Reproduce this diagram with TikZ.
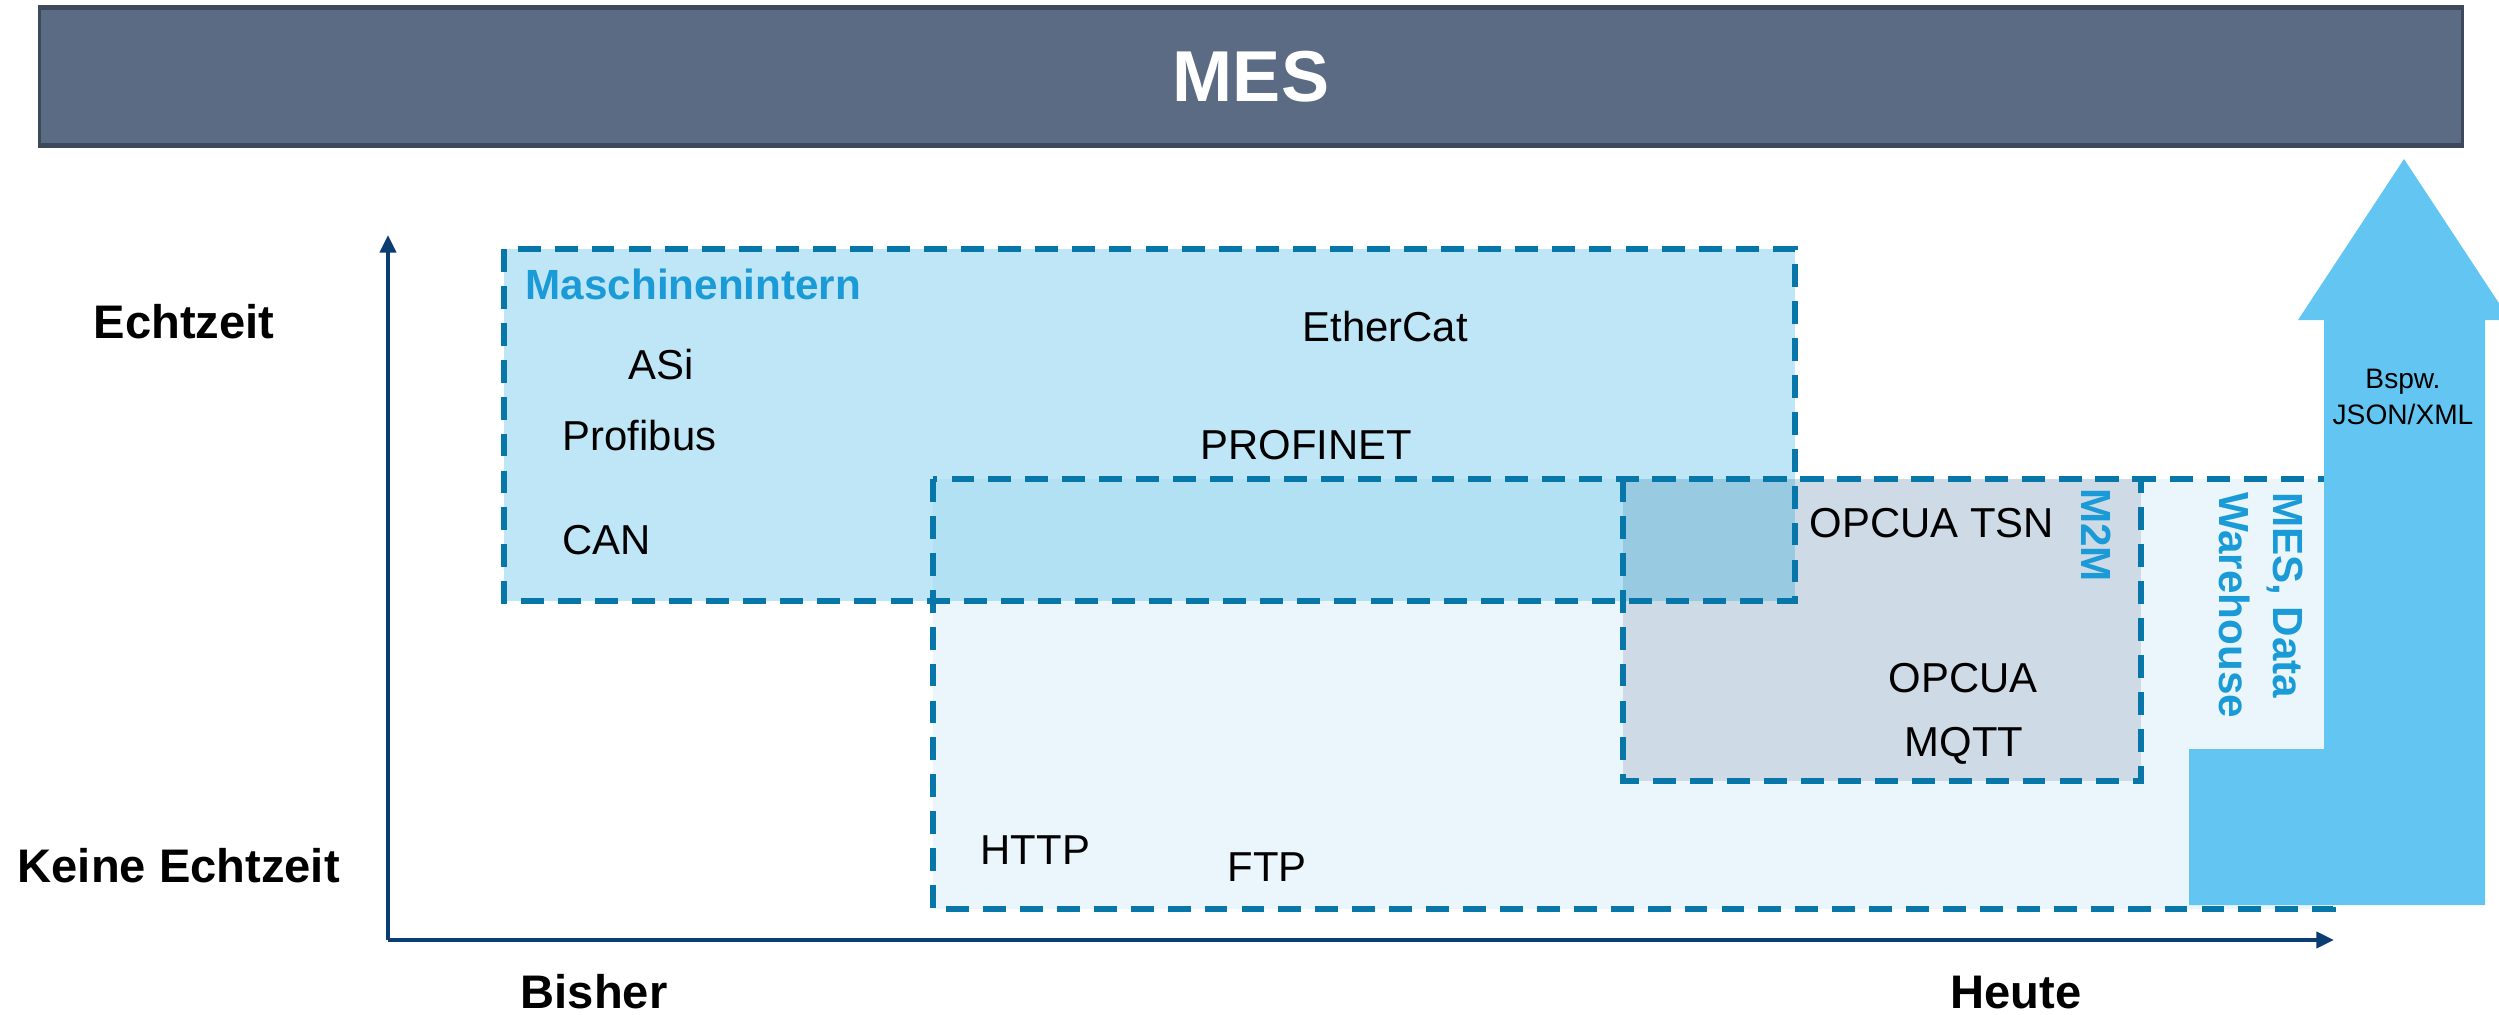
\documentclass[tikz,border=0pt]{standalone}
\usepackage{fontspec}
\setmainfont{Liberation Sans}
\usetikzlibrary{arrows.meta}
\definecolor{mesfill}{HTML}{5B6B84}
\definecolor{mesedge}{HTML}{3E4A5C}
\definecolor{axisblue}{HTML}{0B3C72}
\definecolor{dashblue}{HTML}{0777AA}
\definecolor{maschfill}{HTML}{BFE6F7}
\definecolor{netfill}{HTML}{EAF6FC}
\definecolor{overlapfill}{HTML}{B2E1F4}
\definecolor{mmfill}{HTML}{CEDBE6}
\definecolor{mmoverlap}{HTML}{98CAE2}
\definecolor{arrowfill}{HTML}{63C5F2}
\definecolor{labelblue}{HTML}{1A9AD6}
\begin{document}
\begin{tikzpicture}[x=0.01cm,y=-0.01cm,
  dashbox/.style={draw=dashblue, line width=1.45pt, dash pattern=on 6.5pt off 4pt},
  proto/.style={anchor=base west, inner sep=0pt, font=\fontsize{11.9}{14}\selectfont},
  axislabel/.style={anchor=base west, inner sep=0pt, font=\fontsize{13.4}{16}\selectfont\bfseries},
  grouplabel/.style={inner sep=0pt, text=labelblue, font=\fontsize{12}{15.6}\selectfont\bfseries},
  axisline/.style={draw=axisblue, line width=1.4pt, -{Triangle[length=5pt,width=4.5pt]}}]
\useasboundingbox (0,0) rectangle (2499,1015);

% MES bar
\fill[mesedge] (38,5) rectangle (2464,148);
\fill[mesfill] (41,10) rectangle (2461,143);
\node[text=white, font=\fontsize{20.5}{24}\selectfont\bfseries] (mes) at (1251,77) {MES};

% region fills
\fill[netfill] (933,479) rectangle (2333,909);
\fill[maschfill] (504,249) rectangle (1795,601);
\fill[overlapfill] (933,479) rectangle (1795,601);
\fill[mmfill] (1623,479) rectangle (2141,781);
\fill[mmoverlap] (1623,479) rectangle (1795,601);

% dashed outlines
\draw[dashbox] (504,249) rectangle (1795,601);
\draw[dashbox] (933,479) rectangle (2333,909);
\draw[dashbox] (1623,479) rectangle (2141,781);

% big arrow
\fill[arrowfill] (2404,159) -- (2510,320) -- (2485,320) -- (2485,905) -- (2189,905)
  -- (2189,749) -- (2324,749) -- (2324,320) -- (2298,320) -- cycle;
\node[font=\fontsize{8}{10.2}\selectfont, align=center, inner sep=0pt] (bspw) at (2403,397) {Bspw.\\JSON/XML};

% axes
\coordinate (origin) at (388,940);
\coordinate (ytip) at (388,235);
\coordinate (xtip) at (2334,940);
\draw[axisline] (origin) -- (ytip);
\draw[axisline] (origin) -- (xtip);

% axis labels
\node[axislabel] (echt) at (93,338) {Echtzeit};
\node[axislabel] (keine) at (17,882) {Keine Echtzeit};
\node[axislabel] (bisher) at (520,1008) {Bisher};
\node[axislabel] (heute) at (1950,1008) {Heute};

% group labels
\node[grouplabel, anchor=base west] (masch) at (525,299) {Maschinenintern};
\node[grouplabel, rotate=-90] (m2m) at (2096,535) {M2M};
\node[grouplabel, rotate=-90, align=left] (dwh) at (2261,605) {MES, Data\\Warehouse};

% protocols
\node[proto] (asi) at (628,379) {ASi};
\node[proto] (profibus) at (562,450) {Profibus};
\node[proto] (can) at (562,554) {CAN};
\node[proto] (ethercat) at (1302,341) {EtherCat};
\node[proto] (profinet) at (1200,459) {PROFINET};
\node[proto] (opcuatsn) at (1809,537) {OPCUA TSN};
\node[proto] (opcua) at (1888,692) {OPCUA};
\node[proto] (mqtt) at (1904,756) {MQTT};
\node[proto] (http) at (980,864) {HTTP};
\node[proto] (ftp) at (1227,881) {FTP};
\end{tikzpicture}
\end{document}
